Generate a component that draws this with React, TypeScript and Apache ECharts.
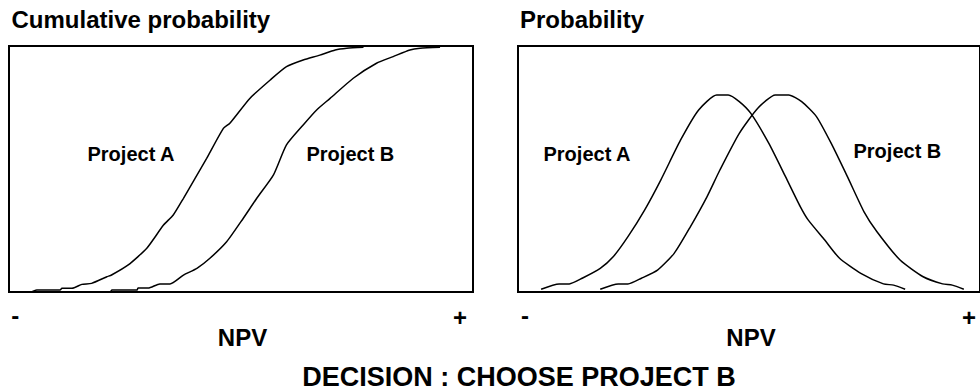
import React, { useEffect, useRef } from "react";
import * as echarts from "echarts";

// Cumulative probability curves (NPV position 0..100, cumulative % 0..100)
const cdfAx = [1.7, 4.7, 6.0, 11.0, 11.4, 13.6, 15.7, 17.8, 21.1, 22.1, 25.7, 29.7, 33.3, 35.4, 37.6, 40.1, 42.6, 46.2, 47.6, 51.9, 56.3, 59.8, 63.4, 67.0, 70.3, 72.8, 76.4];
const cdfAy = [0, 0, 0.8, 0.8, 1.5, 1.5, 3.1, 3.5, 6.2, 6.9, 11.0, 17.8, 27.2, 31.3, 38.1, 46.2, 54.3, 66.5, 68.6, 78.7, 86.2, 91.6, 94.3, 96.3, 98.4, 99.1, 99.5];
const cdfBx = [18.1, 21.8, 22.2, 27.6, 27.8, 30.0, 32.5, 34.7, 37.6, 40.5, 43.3, 46.9, 50.5, 53.4, 57.0, 59.8, 63.4, 66.3, 69.2, 74.2, 79.2, 82.8, 86.4, 88.6, 92.9];
const cdfBy = [0, 0, 0.8, 0.8, 1.6, 1.6, 3.3, 3.3, 6.9, 9.6, 13.7, 20.4, 30.0, 38.1, 47.6, 59.8, 67.9, 74.0, 78.7, 86.9, 93.0, 95.7, 98.4, 99.1, 99.5];

// Probability density curves (NPV position 0..100, relative probability 0..100)
const pdfAx = [5.0, 8.9, 11.1, 13.9, 17.8, 20.6, 23.8, 27.4, 30.9, 35.2, 39.1, 43.0, 45.5, 47.9, 50.4, 54.3, 57.9, 61.1, 62.8, 66.4, 69.6, 74.2, 79.1, 81.3, 83.8];
const pdfAy = [1.1, 3.3, 3.3, 5.6, 9.6, 14.3, 22.5, 33.3, 45.5, 61.8, 74.0, 80.1, 80.1, 77.4, 72.6, 60.4, 46.9, 34.7, 29.3, 21.1, 13.7, 7.6, 3.3, 2.8, 1.1];
const pdfBx = [17.8, 21.7, 23.8, 26.7, 30.2, 33.8, 37.3, 40.9, 43.7, 47.9, 51.9, 55.7, 58.6, 61.4, 64.6, 67.8, 71.3, 74.9, 77.7, 82.7, 87.7, 91.9, 94.0, 96.5];
const pdfBy = [1.1, 3.3, 3.3, 5.6, 8.9, 15.7, 26.5, 38.7, 49.6, 64.5, 74.7, 80.1, 80.1, 77.4, 71.3, 60.4, 46.9, 32.6, 24.5, 13.0, 6.2, 3.3, 2.8, 1.1];

const titles = ["Cumulative probability", "Probability"];
const seriesNames = ["Project A", "Project B"];
const axisName = "NPV";
const axisEnds = ["-", "+"];
const decision = "DECISION : CHOOSE PROJECT B";

const zip = (xs: number[], ys: number[]) => xs.map((x, i) => [x, ys[i]]);

export default function App() {
  const ref = useRef<HTMLDivElement>(null);
  useEffect(() => {
    document.body.style.margin = "0";
    if (!ref.current) return;
    const chart = echarts.init(ref.current, null, { renderer: "svg" });
    const font = "'Liberation Sans', Arial, Helvetica, sans-serif";
    const txt = (text: string, x: number, y: number, size: number, align = "left") => ({
      type: "text",
      x,
      y,
      silent: true,
      style: {
        text,
        fontFamily: font,
        fontWeight: "bold",
        fontSize: size,
        fill: "#000",
        align,
        verticalAlign: "middle",
      },
    });
    const axisBase = {
      type: "value",
      min: 0,
      max: 100,
      axisLine: { show: false },
      axisTick: { show: false },
      axisLabel: { show: false },
      splitLine: { show: false },
    };
    const line = (name: string, data: number[][], idx: number) => ({
      name,
      type: "line",
      xAxisIndex: idx,
      yAxisIndex: idx,
      data,
      showSymbol: false,
      symbol: "none",
      smooth: 0.2,
      lineStyle: { color: "#000", width: 1.5 },
      silent: true,
    });
    chart.setOption({
      animation: false,
      backgroundColor: "#fff",
      grid: [
        { left: 9, top: 46, width: 464, height: 246, show: true, borderColor: "#000", borderWidth: 2, backgroundColor: "transparent" },
        { left: 518, top: 46, width: 470, height: 246, show: true, borderColor: "#000", borderWidth: 2, backgroundColor: "transparent" },
      ],
      xAxis: [
        { ...axisBase, gridIndex: 0 },
        { ...axisBase, gridIndex: 1 },
      ],
      yAxis: [
        { ...axisBase, gridIndex: 0 },
        { ...axisBase, gridIndex: 1 },
      ],
      series: [
        line(seriesNames[0], zip(cdfAx, cdfAy), 0),
        line(seriesNames[1], zip(cdfBx, cdfBy), 0),
        line(seriesNames[0], zip(pdfAx, pdfAy), 1),
        line(seriesNames[1], zip(pdfBx, pdfBy), 1),
      ],
      graphic: [
        txt(titles[0], 11.5, 19, 24),
        txt(titles[1], 520, 19, 24),
        txt(seriesNames[0], 87.5, 154, 20),
        txt(seriesNames[1], 306.5, 154, 20),
        txt(seriesNames[0], 543.5, 154, 20),
        txt(seriesNames[1], 853.5, 151, 20),
        txt(axisEnds[0], 15.3, 315.5, 24, "center"),
        txt(axisEnds[1], 460, 317.5, 24, "center"),
        txt(axisEnds[0], 525, 315.5, 24, "center"),
        txt(axisEnds[1], 969, 317.5, 24, "center"),
        txt(axisName, 242.5, 337.5, 24, "center"),
        txt(axisName, 751, 337.5, 24, "center"),
        txt(decision, 519, 377, 27, "center"),
      ],
    });
    return () => chart.dispose();
  }, []);
  return <div ref={ref} style={{ width: 980, height: 392 }} />;
}
